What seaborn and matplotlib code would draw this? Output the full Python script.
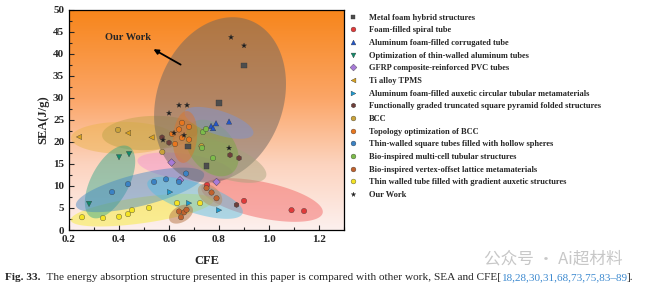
"""SEA vs CFE comparison chart (Fig. 33) redrawn with seaborn."""

import matplotlib

matplotlib.use("Agg")
import matplotlib.pyplot as plt
import numpy as np
import pandas as pd
import seaborn as sns
from matplotlib.colors import LinearSegmentedColormap
from matplotlib.ticker import MultipleLocator


# ---- data ----
SERIES = [
    "Metal foam hybrid structures",
    "Foam-filled spiral tube",
    "Aluminum foam-filled corrugated tube",
    "Optimization of thin-walled aluminum tubes",
    "GFRP composite-reinforced PVC tubes",
    "Ti alloy TPMS",
    "Aluminum foam-filled auxetic circular tubular metamaterials",
    "Functionally graded truncated square pyramid folded structures",
    "BCC",
    "Topology optimization of BCC",
    "Thin-walled square tubes filled with hollow spheres",
    "Bio-inspired multi-cell tubular structures",
    "Bio-inspired vertex-offset lattice metamaterials",
    "Thin walled tube filled with gradient auxetic structures",
    "Our Work",
]

CFE = [
    [0.90, 0.80, 0.676, 0.75],
    [1.09, 1.14, 0.90, 0.752],
    [0.84, 0.768, 0.776, 0.788],
    [0.40, 0.44, 0.28],
    [0.79, 0.61, 0.644],
    [0.24, 0.436, 0.53],
    [0.604, 0.80, 0.68],
    [0.844, 0.88, 0.572, 0.87, 0.60],
    [0.396, 0.573, 0.73],
    [0.652, 0.68, 0.612, 0.652, 0.624, 0.64, 0.68],
    [0.372, 0.436, 0.54, 0.588, 0.64, 0.668],
    [0.736, 0.732, 0.776, 0.748],
    [0.648, 0.66, 0.67, 0.64, 0.75, 0.77, 0.79],
    [0.252, 0.336, 0.40, 0.436, 0.452, 0.52, 0.632, 0.724],
    [0.848, 0.90, 0.60, 0.64, 0.672, 0.84, 0.576, 0.66, 0.62],
]

SEA = [
    [37.3, 28.8, 19.0, 14.5],
    [4.5, 4.3, 6.6, 10.2],
    [24.6, 23.6, 23.1, 24.2],
    [16.5, 17.2, 5.9],
    [10.9, 15.3, 11.3],
    [21.1, 22.0, 21.0],
    [8.6, 4.5, 6.1],
    [17.0, 16.3, 21.0, 5.7, 19.8],
    [22.7, 17.7, 19.0],
    [24.3, 23.4, 21.8, 20.9, 19.5, 22.8, 20.5],
    [8.6, 10.4, 10.9, 11.5, 10.9, 12.8],
    [22.2, 18.6, 16.3, 22.9],
    [2.9, 4.0, 4.6, 4.2, 9.5, 8.5, 7.2],
    [2.9, 2.7, 3.0, 3.6, 4.5, 5.0, 6.1, 6.1],
    [43.7, 41.8, 26.5, 28.3, 28.3, 18.6, 20.4, 21.5, 22.0],
]

X_TICKS = [0.2, 0.4, 0.6, 0.8, 1.0, 1.2]
Y_TICKS = [0, 5, 10, 15, 20, 25, 30, 35, 40, 45, 50]

# ---- styles ----
COLORS = [
    "#4d4d4d", "#e03a3a", "#2255c8", "#128a6a", "#a77ad8", "#d9a21e", "#1d9bd1",
    "#6e3f3a", "#c9a23a", "#e8761e", "#3b82c4", "#7cbb4a", "#c0622e", "#f4e324",
    "#1a1a1a",
]
MARKERS = ["s", "o", "^", "v", "D", "<", ">", "h", "o", "o", "o", "o", "o", "o", "*"]

# shaded regions: centre (data), semi-axes (px), angle (deg on screen), colour, alpha
REGIONS = [
    (0.416, 20.9, 52, 16, 0, "#eab447", 0.45),
    (0.524, 22.0, 48, 17, 3, "#bba246", 0.45),
    (0.664, 14.3, 48, 13, -8, "#f28fd2", 0.45),
    (0.972, 6.8, 62, 18, -12, "#f25a5a", 0.45),
    (0.492, 4.5, 72, 13, 8, "#f8ec3a", 0.5),
    (0.364, 10.9, 40, 19, 62, "#2aa585", 0.45),
    (0.484, 9.1, 66, 16, 14, "#3f86c6", 0.45),
    (0.704, 7.3, 50, 15, -18, "#4cbce4", 0.45),
    (0.804, 29.5, 85, 63, 70, "#6b6560", 0.5),
    (0.80, 16.0, 50, 17, -20, "#a3a27a", 0.45),
    (0.772, 18.6, 32, 22, -50, "#74a83c", 0.45),
    (0.80, 24.3, 36, 12, -18, "#8393c8", 0.55),
    (0.664, 21.1, 26, 12, 85, "#e07326", 0.45),
    (0.648, 3.6, 13, 8, 30, "#b57444", 0.5),
    (0.764, 7.9, 14, 9, -40, "#b58552", 0.45),
]

PX_X = 250.0   # screen px per CFE unit
PX_Y = 4.41    # screen px per SEA unit
CAP_SIZE = 8.1


def ellipse_outline(cx, cy, a, b, ang):
    t = np.linspace(0, 2 * np.pi, 160)
    r = np.deg2rad(ang)
    dx = a * np.cos(t) * np.cos(r) - b * np.sin(t) * np.sin(r)
    dy = a * np.cos(t) * np.sin(r) + b * np.sin(t) * np.cos(r)
    return cx + dx / PX_X, cy + dy / PX_Y


def build_frame() -> pd.DataFrame:
    rows = []
    for name, xs, ys in zip(SERIES, CFE, SEA):
        for x, y in zip(xs, ys):
            rows.append({"series": name, "CFE": x, "SEA": y})
    return pd.DataFrame(rows)


def main() -> None:
    sns.set_theme(style="ticks")
    plt.rcParams["font.family"] = ["Liberation Serif", "DejaVu Serif"]
    plt.rcParams["font.weight"] = "bold"

    fig = plt.figure(figsize=(6.5, 2.91), dpi=100)
    fig.patch.set_facecolor("white")
    ax = fig.add_axes([0.1062, 0.2096, 0.4231, 0.7577])

    # orange-to-white background
    cmap = LinearSegmentedColormap.from_list(
        "bg", [(0.0, "#fdf0ee"), (0.3, "#fcd3be"), (0.6, "#fba566"), (1.0, "#f7851a")]
    )
    grad = np.linspace(0, 1, 256).reshape(-1, 1)
    ax.imshow(grad, extent=[0.2, 1.3, 0, 50], origin="lower", aspect="auto",
              cmap=cmap, zorder=0)

    for cx, cy, a, b, ang, col, alpha in REGIONS:
        ex, ey = ellipse_outline(cx, cy, a, b, ang)
        ax.fill(ex, ey, color=col, alpha=alpha, lw=0, zorder=1)

    df = build_frame()
    sns.scatterplot(
        data=df, x="CFE", y="SEA", hue="series", style="series",
        hue_order=SERIES, style_order=SERIES,
        palette=dict(zip(SERIES, COLORS)), markers=dict(zip(SERIES, MARKERS)),
        s=15, edgecolor="#333333", linewidth=0.25, ax=ax, zorder=3,
    )

    ax.annotate("", xy=(0.528, 41.3), xytext=(0.656, 37.2),
                arrowprops=dict(arrowstyle="-|>", color="black", lw=1.3,
                                mutation_scale=7), zorder=4)
    ax.text(0.436, 43.6, "Our Work", ha="center", va="center",
            fontsize=7.5, fontweight="bold", zorder=4)

    ax.set_xlim(0.2, 1.3)
    ax.set_ylim(0, 50)
    ax.set_xticks(X_TICKS)
    ax.set_yticks(Y_TICKS)
    ax.xaxis.set_minor_locator(MultipleLocator(0.1))
    ax.yaxis.set_minor_locator(MultipleLocator(2.5))
    ax.tick_params(which="both", direction="in", labelsize=8, width=0.8)
    ax.tick_params(which="major", length=3.5)
    ax.tick_params(which="minor", length=2)
    ax.set_xticklabels([f"{v:.1f}" for v in X_TICKS], fontweight="bold")
    ax.set_yticklabels([str(v) for v in Y_TICKS], fontweight="bold")
    for sp in ax.spines.values():
        sp.set_color("black")
        sp.set_linewidth(0.9)
    ax.set_xlabel("CFE", fontsize=9, fontweight="bold", labelpad=8)
    ax.set_ylabel("SEA(J/g)", fontsize=9, fontweight="bold", labelpad=3)

    handles, labels = ax.get_legend_handles_labels()
    ax.legend(handles, labels, loc="upper left", bbox_to_anchor=(0.537, 0.953),
              bbox_transform=fig.transFigure, frameon=False,
              prop={"weight": "bold", "size": 6}, labelspacing=0.56,
              handlelength=1.0, handletextpad=1.4, borderpad=0, borderaxespad=0,
              markerscale=0.9)

    # faint watermark, just above the caption line
    fig.text(0.745, 1 - 259 / 291, "公众号 · Ai超材料", fontsize=12, color="#9a9a9a",
             alpha=0.55, ha="left", va="center",
             family=["Noto Sans CJK SC", "DejaVu Sans"], fontweight="normal")

    # caption under the figure
    cap_y = 1 - 280 / 291
    t1 = fig.text(0.008, cap_y, "Fig. 33.", fontsize=CAP_SIZE, fontweight="bold",
                  va="baseline")
    a2 = plt.annotate("  The energy absorption structure presented in this paper is "
                      "compared with other work, SEA and CFE[", xy=(1, 0),
                      xycoords=t1, fontsize=CAP_SIZE, fontweight="normal",
                      va="bottom", annotation_clip=False)
    a3 = plt.annotate("18,28,30,31,68,73,75,83\u201389", xy=(1, 0), xycoords=a2,
                      fontsize=CAP_SIZE, fontweight="normal", va="bottom",
                      color="#3d8ad0", annotation_clip=False)
    plt.annotate("].", xy=(1, 0), xycoords=a3, fontsize=CAP_SIZE, fontweight="normal",
                 va="bottom", annotation_clip=False)

    fig.savefig("out.png", dpi=100)
    plt.close(fig)


if __name__ == "__main__":
    main()
